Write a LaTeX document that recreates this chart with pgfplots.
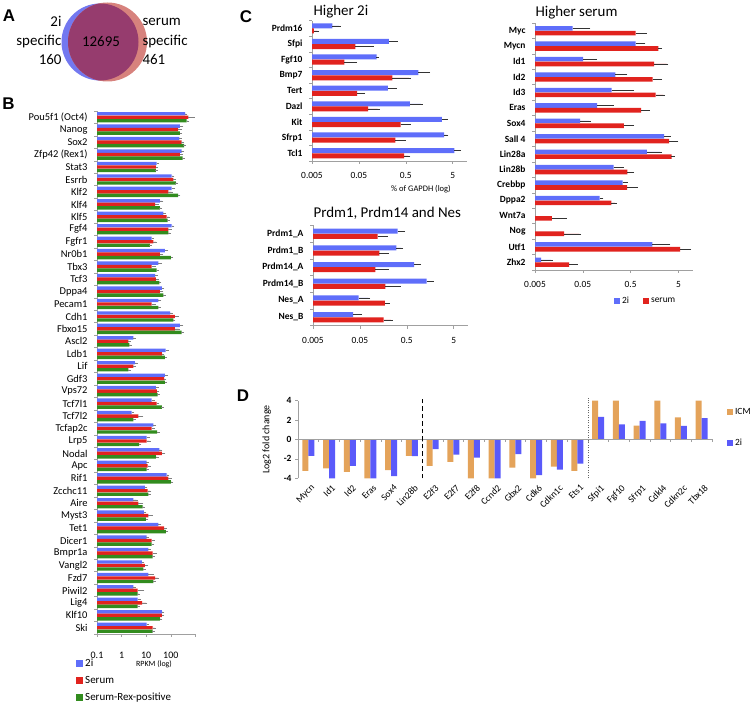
\documentclass[border=0pt]{standalone}
\usepackage{pgfplots}
\pgfplotsset{compat=1.18}
\usepackage{pgfplotstable}
\usepackage{fontspec}
\setmainfont{Carlito}
\newfontfamily\panelfont{Liberation Sans}
\newcommand{\fs}[1]{\fontsize{#1}{#1}\selectfont}
\definecolor{bblue}{RGB}{95,110,250}
\definecolor{bred}{RGB}{225,35,30}
\definecolor{bgreen}{RGB}{50,140,30}
\definecolor{dorange}{RGB}{228,163,90}
\definecolor{dblue}{RGB}{90,90,250}
\definecolor{axgray}{RGB}{160,160,160}
\definecolor{vblue}{RGB}{115,120,240}
\definecolor{vpink}{RGB}{215,130,125}
\definecolor{vpurple}{RGB}{150,60,110}

\pgfplotstableread{
y b be r re g ge
41 380 40 515 300 440 60
40 236 50 200 60 236 20
39 222 20 276 30 345 20
38 276 30 236 40 304 20
37 26.7 3 25 2 25 1
36 109 15 127 20 162 10
35 109 25 80 25 200 15
34 36 8 23 5 36 3
33 50 8 68 15 75 5
32 109 15 80 15 80 10
31 16.7 2 19.5 5 14.2 1
30 58 12 36 8 100 10
29 31 8 16.7 5 26.7 3
28 23 4 25 4 34 3
27 43 6 36 8 50 5
26 31 6 16.7 5 31 3
25 93 12 148 40 127 10
24 236 50 148 60 276 20
23 3.0 0.3 1.87 0.2 2.05 0.2
22 62 12 43 5 58 5
21 3.5 0.5 3.0 0.4 1.87 0.2
20 58 8 53 6 58 5
19 25 4 27 3 29 3
18 16.7 3 26.7 4 43 4
17 2.57 0.3 4.8 2 3.0 0.3
16 19.5 3 16.7 3 28 3
15 10.5 2 10.5 3 5.2 0.5
14 34 6 43 10 25 3
13 10.5 1 11.5 2 10.5 1
12 68 10 80 15 100 10
11 8.9 1 11.5 3 12.3 1
10 3.0 1 4.8 2 7.2 0.7
9 8.1 1 12.3 4 9.8 1
8 31 6 53 10 63 6
7 10.5 1 16.7 3 16.7 2
6 12.3 1.5 18.2 6 18.2 2
5 6.6 0.8 8.9 2 7.6 0.8
4 12.3 6 23 6 19.5 2
3 3.0 0.3 4.5 3 4.5 0.5
2 4.5 0.8 6.9 3 4.5 0.5
1 43 5 43 6 36 4
0 10.5 1.5 18.2 4 18.2 2
}\Btab

\pgfplotsset{
 panel/.style={scale only axis, anchor=south west, axis x line*=bottom, axis y line*=left,
   axis line style={axgray, line width=0.6pt}, tick align=outside,
   tick style={axgray, line width=0.5pt},
   major tick length=3bp, minor tick length=3bp, xminorticks=false, clip=false},
 cpanel/.style={panel,
   xtick={0.005,0.05,0.5,5}, xticklabels={0.005,0.05,0.5,5},
   xticklabel style={font=\fs{9.5}, yshift=-5bp},
   yticklabel style={font=\bfseries\fs{9.5}, xshift=-3bp},
   major y tick style={draw=none},
   error bars/x dir=plus, error bars/x explicit,
   error bars/error bar style={draw=black!80, line width=0.5pt},
   error bars/error mark options={draw=black!80, mark size=1.8bp, line width=0.5pt}},
}

\begin{document}
\begin{tikzpicture}[x=1bp,y=1bp]
\useasboundingbox (0,0) rectangle (756,703);

% ---------- panel labels
\node[font=\panelfont\bfseries\fs{17}] at (9,687) {A};
\node[font=\panelfont\bfseries\fs{17}] at (8.5,599) {B};
\node[font=\panelfont\bfseries\fs{17}] at (246,686.5) {C};
\node[font=\panelfont\bfseries\fs{17}] at (243,307) {D};

% ---------- panel A (Venn)
\fill[vblue] (100,661) circle (38.5);
\fill[vpink] (107.5,661) circle (39.5);
\begin{scope}
\clip (100,661) circle (38.5);
\fill[vpurple] (107.5,661) circle (39.5);
\end{scope}
\node[font=\fs{15}, anchor=east] at (65,681.3) {2i};
\node[font=\fs{15}, anchor=east] at (65,661.3) {specific};
\node[font=\fs{15}, anchor=east] at (65,643) {160};
\node[font=\fs{15}] at (101,661.3) {12695};
\node[font=\fs{15}, anchor=west] at (139,681.3) {serum};
\node[font=\fs{15}, anchor=west] at (139,661.3) {specific};
\node[font=\fs{15}, anchor=west] at (139,643) {461};

% ---------- panel B
\begin{axis}[panel,
  at={(97bp,69bp)}, width=98.4bp, height=523bp,
  xmode=log, log origin=infty, xmin=0.1, xmax=1000,
  ymin=-0.5, ymax=41.5,
  xtick={0.1,1,10,100,1000}, xticklabels={0.1,1,10,100,{}},
  ytick={0,...,41},
  yticklabels={Ski,Klf10,Lig4,Piwil2,Fzd7,Vangl2,Bmpr1a,Dicer1,Tet1,Myst3,Aire,Zcchc11,Rif1,Apc,Nodal,Lrp5,Tcfap2c,Tcf7l2,Tcf7l1,Vps72,Gdf3,Lif,Ldb1,Ascl2,Fbxo15,Cdh1,Pecam1,Dppa4,Tcf3,Tbx3,Nr0b1,Fgfr1,Fgf4,Klf5,Klf4,Klf2,Esrrb,Stat3,{Zfp42 (Rex1)},Sox2,Nanog,{Pou5f1 (Oct4)}},
  minor ytick={-0.5,0.5,...,41.5},
  major y tick style={draw=none},
  yticklabel style={font=\fs{10.5}, xshift=-3bp},
  xticklabel style={font=\fs{10}, yshift=-12bp},
  xbar, bar width=3.4bp,
  error bars/x dir=plus, error bars/x explicit,
  error bars/error bar style={draw=black!50, line width=0.4pt},
  error bars/error mark options={draw=black!50, mark size=1.3bp, line width=0.4pt},
  legend style={at={(-0.213,-0.044)}, anchor=north west, draw=none, fill=none,
    font=\fs{11}, row sep=4bp, inner sep=0pt, cells={anchor=west}},
]
\addplot[fill=bblue, draw=none, bar shift=3.5bp,
  legend image code/.code={\fill[bblue] (0bp,-3.5bp) rectangle (7bp,3.5bp);}]
  table[x=b, y=y, x error=be]{\Btab};
\addlegendentry{2i}
\addplot[fill=bred, draw=none, bar shift=0bp,
  legend image code/.code={\fill[bred] (0bp,-3.5bp) rectangle (7bp,3.5bp);}]
  table[x=r, y=y, x error=re]{\Btab};
\addlegendentry{Serum}
\addplot[fill=bgreen, draw=none, bar shift=-3.5bp,
  legend image code/.code={\fill[bgreen] (0bp,-3.5bp) rectangle (7bp,3.5bp);}]
  table[x=g, y=y, x error=ge]{\Btab};
\addlegendentry{Serum-Rex-positive}
\node[font=\fs{8}] at (axis description cs:0.579,-0.0574) {RPKM (log)};
\end{axis}

% ---------- panel C: Higher 2i
\node[font=\fs{15}, anchor=west] at (310,691) {Higher 2i};
\begin{axis}[cpanel,
  xmode=log, log origin=infty, xmin=0.005, xmax=10, xbar,
  at={(312bp,542bp)}, width=154.8bp, height=140.4bp,
  ymin=-0.5, ymax=8.5, ytick={0,...,8},
  yticklabels={Tcl1,Sfrp1,Kit,Dazl,Tert,Bmp7,Fgf10,Sfpi,Prdm16},
  minor ytick={-0.5,0.5,...,8.5},
  bar width=5bp,
]
\addplot[fill=bblue, draw=none, bar shift=2.6bp] coordinates {
 (0.0136,8) +- (0.0054,0)
 (0.219,7) +- (0.09,0)
 (0.12,6) +- (0.004,0)
 (0.93,5) +- (0.58,0)
 (0.208,4) +- (0.086,0)
 (0.61,3) +- (0.44,0)
 (2.93,2) +- (0.67,0)
 (3.27,1) +- (0.43,0)
 (5.4,0) +- (1.5,0)
};
\addplot[fill=bred, draw=none, bar shift=-2.6bp] coordinates {
 (0.0055,8) +- (0.001,0)
 (0.042,7) +- (0.052,0)
 (0.0245,6) +- (0.0175,0)
 (0.26,5) +- (0.33,0)
 (0.046,4) +- (0.016,0)
 (0.079,3) +- (0.047,0)
 (0.39,2) +- (0.20,0)
 (0.30,1) +- (0.16,0)
 (0.46,0) +- (0.11,0)
};
\node[font=\fs{8.5}] at (axis description cs:0.704,-0.2) {\% of GAPDH (log)};
\end{axis}

% ---------- panel C: Prdm1, Prdm14 and Nes
\node[font=\fs{15}, anchor=west] at (310,489.7) {Prdm1, Prdm14 and Nes};
\begin{axis}[cpanel,
  xmode=log, log origin=infty, xmin=0.005, xmax=10, xbar,
  at={(313bp,377.4bp)}, width=154.8bp, height=100.2bp,
  ymin=-0.5, ymax=5.5, ytick={0,...,5},
  yticklabels={Nes\_B,Nes\_A,Prdm14\_B,Prdm14\_A,Prdm1\_B,Prdm1\_A},
  minor ytick={-0.5,0.5,...,5.5},
  bar width=5bp,
]
\addplot[fill=bblue, draw=none, bar shift=2.6bp] coordinates {
 (0.32,5) +- (0.10,0)
 (0.30,4) +- (0.08,0)
 (0.72,3) +- (0.21,0)
 (1.32,2) +- (0.38,0)
 (0.047,1) +- (0.029,0)
 (0.036,0) +- (0.015,0)
};
\addplot[fill=bred, draw=none, bar shift=-2.6bp] coordinates {
 (0.12,5) +- (0.06,0)
 (0.13,4) +- (0.06,0)
 (0.107,3) +- (0.083,0)
 (0.174,2) +- (0.166,0)
 (0.171,1) +- (0.029,0)
 (0.161,0) +- (0.069,0)
};
\end{axis}

% ---------- panel C: Higher serum
\node[font=\fs{15}, anchor=west] at (532,690.3) {Higher serum};
\begin{axis}[cpanel,
  xmode=log, log origin=infty, xmin=0.005, xmax=10, xbar,
  at={(535bp,433bp)}, width=157.8bp, height=247bp,
  ymin=-0.5, ymax=15.5, ytick={0,...,15},
  yticklabels={Zhx2,Utf1,Nog,Wnt7a,Dppa2,Crebbp,Lin28b,Lin28a,Sall 4,Sox4,Eras,Id3,Id2,Id1,Mycn,Myc},
  minor ytick={-0.5,0.5,...,15.5},
  bar width=4.6bp,
  legend style={at={(0.5,-0.126)}, anchor=west, draw=none, fill=none,
    font=\fs{9.5}, inner sep=0pt, legend columns=2,
    /tikz/every even column/.append style={column sep=12bp}},
]
\addplot[fill=bblue, draw=none, bar shift=2.4bp,
  legend image code/.code={\fill[bblue] (0bp,-3bp) rectangle (6bp,3bp);}] coordinates {
 (0.0307,15) +- (0.035,0)
 (0.64,14) +- (0.29,0)
 (0.051,13) +- (0.040,0)
 (0.24,12) +- (0.15,0)
 (0.20,11) +- (0.34,0)
 (0.100,10) +- (0.105,0)
 (0.0437,9) +- (0.025,0)
 (2.5,8) +- (0.7,0)
 (1.09,7) +- (0.99,0)
 (0.22,6) +- (0.11,0)
 (0.34,5) +- (0.06,0)
 (0.112,4) +- (0.012,0)
 (1.42,1) +- (1.68,0)
 (0.0067,0) +- (0.0041,0)
};
\addlegendentry{2i}
\addplot[fill=bred, draw=none, bar shift=-2.4bp,
  legend image code/.code={\fill[bred] (0bp,-3bp) rectangle (6bp,3bp);}] coordinates {
 (0.64,15) +- (0.36,0)
 (1.90,14) +- (0.18,0)
 (1.55,13) +- (1.28,0)
 (1.45,12) +- (0.63,0)
 (1.67,11) +- (0.74,0)
 (0.83,10) +- (0.31,0)
 (0.36,9) +- (0.18,0)
 (3.2,8) +- (1.4,0)
 (3.6,7) +- (0.2,0)
 (0.43,6) +- (0.11,0)
 (0.42,5) +- (0.23,0)
 (0.199,4) +- (0.036,0)
 (0.0112,3) +- (0.0101,0)
 (0.0203,2) +- (0.022,0)
 (5.4,1) +- (3.1,0)
 (0.026,0) +- (0.010,0)
};
\addlegendentry{serum}
\end{axis}

% ---------- panel D
\begin{axis}[panel,
  at={(298bp,224.7bp)}, width=414bp, height=77.6bp,
  xmin=-0.5, xmax=19.5, ymin=-4, ymax=4,
  x axis line style={draw=none},
  xtick={0,...,19}, x tick style={draw=none},
  xticklabels={Mycn,Id1,Id2,Eras,Sox4,Lin28b,E2f3,E2f7,E2f8,Ccnd2,Gbx2,Cdk6,Cdkn1c,Ets1,Sfpi1,Fgf10,Sfrp1,Cdkl4,Cdkn2c,Tbx18},
  xticklabel style={rotate=45, anchor=north east, font=\fs{9.5}, xshift=3bp},
  ytick={-4,-2,0,2,4}, yticklabels={-4,-2,0,2,4},
  yticklabel style={font=\bfseries\fs{9.5}},
  ylabel={Log2 fold change}, ylabel style={font=\fs{10}, at={(axis description cs:-0.0756,0.5)}, anchor=center},
  ybar, bar width=6bp,
  legend style={at={(1.036,0.93)}, anchor=north west, draw=none, fill=none,
    font=\fs{9.5}, inner sep=0pt, row sep=19bp, cells={anchor=west}},
]
\addplot[fill=dorange, draw=none, bar shift=-3bp,
  legend image code/.code={\fill[dorange] (0bp,-3bp) rectangle (6bp,3bp);}] coordinates {
 (0,-3.24) (1,-2.99) (2,-3.34) (3,-4) (4,-3.16) (5,-1.69) (6,-2.72) (7,-2.31) (8,-4) (9,-4)
 (10,-2.89) (11,-4) (12,-2.79) (13,-3.24) (14,4) (15,4) (16,1.44) (17,4) (18,2.27) (19,4)
};
\addlegendentry{ICM}
\addplot[fill=dblue, draw=none, bar shift=3bp,
  legend image code/.code={\fill[dblue] (0bp,-3bp) rectangle (6bp,3bp);}] coordinates {
 (0,-1.69) (1,-4) (2,-2.72) (3,-4) (4,-3.78) (5,-1.72) (6,-1.0) (7,-1.55) (8,-1.86) (9,-4)
 (10,-1.52) (11,-3.68) (12,-3.10) (13,-2.48) (14,2.33) (15,1.55) (16,1.92) (17,1.65) (18,1.40) (19,2.20)
};
\addlegendentry{2i}
\draw[axgray, line width=0.6pt] (axis cs:-0.5,0) -- (axis cs:19.5,0);
\pgfplotsinvokeforeach{0,...,20}{\draw[axgray, line width=0.5pt] (axis cs:#1-0.5,0) -- ++(0bp,-3bp);}
\draw[black, line width=1.3pt, dash pattern=on 4.5bp off 3bp] (axis cs:5.5,-4) -- (axis cs:5.5,4.5);
\draw[black!60, line width=0.6pt, dash pattern=on 1bp off 1.5bp] (axis cs:13.5,-4) -- (axis cs:13.5,4.3);
\end{axis}

\end{tikzpicture}
\end{document}
